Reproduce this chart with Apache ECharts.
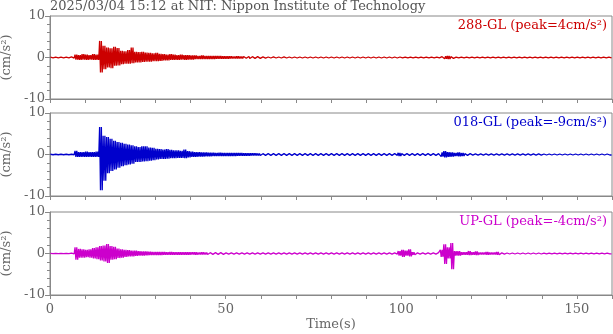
<!DOCTYPE html>
<html>
<head>
<meta charset="utf-8">
<script src="https://cdn.jsdelivr.net/npm/echarts@6/dist/echarts.min.js"></script>
<style>
  html, body { margin: 0; padding: 0; background: #fff; }
  #chart { width: 613px; height: 334px; }
</style>
</head>
<body>
<div id="chart"></div>
<script>
// envelope of each trace, one value per second (t = 0..159)
const redHi = [
  0.08, 0.08, 0.08, 0.08, 0.08, 0.08, 0.15, 0.7, 0.6, 0.8,
  0.7, 0.6, 0.8, 0.7, 4.0, 2.8, 2.4, 2.2, 2.6, 2.3,
  1.6, 1.5, 1.8, 2.4, 1.4, 1.3, 1.4, 1.2, 1.1, 1.0,
  1.1, 0.9, 0.8, 0.7, 0.8, 0.7, 0.6, 0.7, 0.6, 0.6,
  0.5, 0.5, 0.4, 0.5, 0.4, 0.4, 0.35, 0.4, 0.35, 0.3,
  0.3, 0.3, 0.25, 0.3, 0.25, 0.25, 0.25, 0.2, 0.25, 0.2,
  0.15, 0.15, 0.12, 0.15, 0.12, 0.12, 0.15, 0.12, 0.12, 0.12,
  0.12, 0.12, 0.12, 0.12, 0.12, 0.12, 0.12, 0.12, 0.12, 0.12,
  0.12, 0.12, 0.12, 0.12, 0.12, 0.12, 0.12, 0.12, 0.12, 0.12,
  0.12, 0.12, 0.12, 0.12, 0.12, 0.12, 0.12, 0.12, 0.12, 0.12,
  0.1, 0.1, 0.1, 0.1, 0.1, 0.1, 0.1, 0.1, 0.1, 0.1,
  0.1, 0.2, 0.3, 0.35, 0.2, 0.1, 0.1, 0.1, 0.1, 0.1,
  0.1, 0.1, 0.1, 0.1, 0.1, 0.1, 0.1, 0.1, 0.1, 0.1,
  0.1, 0.1, 0.1, 0.1, 0.1, 0.1, 0.1, 0.1, 0.1, 0.1,
  0.1, 0.1, 0.1, 0.1, 0.1, 0.1, 0.1, 0.1, 0.1, 0.1,
  0.1, 0.1, 0.1, 0.1, 0.1, 0.1, 0.1, 0.1, 0.1, 0.1
];
const redLo = [
  -0.08, -0.08, -0.08, -0.08, -0.08, -0.08, -0.15, -0.5, -0.6, -0.5,
  -0.6, -0.5, -0.6, -0.6, -3.6, -2.8, -2.4, -2.6, -2.0, -1.9,
  -1.6, -1.5, -1.5, -1.4, -1.2, -1.2, -1.1, -1.0, -1.0, -0.9,
  -0.9, -0.8, -0.7, -0.7, -0.6, -0.6, -0.6, -0.5, -0.6, -0.5,
  -0.5, -0.4, -0.4, -0.4, -0.4, -0.35, -0.35, -0.3, -0.3, -0.3,
  -0.3, -0.25, -0.25, -0.25, -0.25, -0.2, -0.25, -0.2, -0.2, -0.2,
  -0.15, -0.15, -0.12, -0.12, -0.12, -0.12, -0.12, -0.12, -0.12, -0.12,
  -0.12, -0.12, -0.12, -0.12, -0.12, -0.12, -0.12, -0.12, -0.12, -0.12,
  -0.12, -0.12, -0.12, -0.12, -0.12, -0.12, -0.12, -0.12, -0.12, -0.12,
  -0.12, -0.12, -0.12, -0.12, -0.12, -0.12, -0.12, -0.12, -0.12, -0.12,
  -0.1, -0.1, -0.1, -0.1, -0.1, -0.1, -0.1, -0.1, -0.1, -0.1,
  -0.1, -0.2, -0.3, -0.35, -0.2, -0.1, -0.1, -0.1, -0.1, -0.1,
  -0.1, -0.1, -0.1, -0.1, -0.1, -0.1, -0.1, -0.1, -0.1, -0.1,
  -0.1, -0.1, -0.1, -0.1, -0.1, -0.1, -0.1, -0.1, -0.1, -0.1,
  -0.1, -0.1, -0.1, -0.1, -0.1, -0.1, -0.1, -0.1, -0.1, -0.1,
  -0.1, -0.1, -0.1, -0.1, -0.1, -0.1, -0.1, -0.1, -0.1, -0.1
];
const blueHi = [
  0.06, 0.06, 0.06, 0.06, 0.06, 0.06, 0.06, 0.9, 0.6, 0.6,
  0.7, 0.6, 0.6, 0.7, 6.6, 4.5, 4.2, 3.8, 3.3, 3.0,
  2.8, 2.6, 2.4, 2.2, 2.0, 1.8, 2.0, 2.0, 1.7, 1.6,
  1.4, 1.3, 1.2, 1.3, 1.1, 1.0, 1.0, 0.9, 1.2, 0.8,
  0.7, 0.6, 0.6, 0.5, 0.5, 0.45, 0.45, 0.4, 0.45, 0.4,
  0.4, 0.35, 0.4, 0.35, 0.35, 0.3, 0.3, 0.3, 0.3, 0.25,
  0.2, 0.2, 0.2, 0.2, 0.2, 0.2, 0.2, 0.2, 0.2, 0.2,
  0.2, 0.2, 0.2, 0.2, 0.2, 0.2, 0.2, 0.2, 0.2, 0.2,
  0.2, 0.2, 0.2, 0.2, 0.2, 0.2, 0.2, 0.2, 0.2, 0.2,
  0.2, 0.2, 0.2, 0.2, 0.2, 0.2, 0.2, 0.2, 0.2, 0.4,
  0.2, 0.2, 0.2, 0.2, 0.2, 0.2, 0.2, 0.2, 0.2, 0.2,
  0.2, 0.5, 0.8, 0.6, 0.5, 0.4, 0.5, 0.35, 0.2, 0.2,
  0.15, 0.15, 0.15, 0.15, 0.15, 0.15, 0.15, 0.15, 0.15, 0.15,
  0.15, 0.15, 0.15, 0.15, 0.15, 0.15, 0.15, 0.15, 0.15, 0.15,
  0.12, 0.12, 0.12, 0.12, 0.12, 0.12, 0.12, 0.12, 0.12, 0.12,
  0.12, 0.12, 0.12, 0.12, 0.12, 0.12, 0.12, 0.12, 0.12, 0.12
];
const blueLo = [
  -0.06, -0.06, -0.06, -0.06, -0.06, -0.06, -0.06, -0.6, -0.6, -0.6,
  -0.6, -0.6, -0.6, -0.6, -8.6, -6.3, -4.5, -4.0, -3.6, -3.2,
  -2.8, -2.6, -2.4, -2.2, -1.8, -1.8, -1.7, -1.6, -1.5, -1.4,
  -1.2, -1.1, -1.1, -1.0, -0.9, -0.9, -0.8, -0.8, -0.9, -0.7,
  -0.6, -0.6, -0.5, -0.5, -0.45, -0.45, -0.4, -0.4, -0.4, -0.4,
  -0.35, -0.35, -0.35, -0.3, -0.3, -0.3, -0.3, -0.25, -0.25, -0.25,
  -0.2, -0.2, -0.2, -0.2, -0.2, -0.2, -0.2, -0.2, -0.2, -0.2,
  -0.2, -0.2, -0.2, -0.2, -0.2, -0.2, -0.2, -0.2, -0.2, -0.2,
  -0.2, -0.2, -0.2, -0.2, -0.2, -0.2, -0.2, -0.2, -0.2, -0.2,
  -0.2, -0.2, -0.2, -0.2, -0.2, -0.2, -0.2, -0.2, -0.2, -0.35,
  -0.2, -0.2, -0.2, -0.2, -0.2, -0.2, -0.2, -0.2, -0.2, -0.2,
  -0.2, -0.5, -0.7, -0.6, -0.5, -0.4, -0.45, -0.35, -0.2, -0.2,
  -0.15, -0.15, -0.15, -0.15, -0.15, -0.15, -0.15, -0.15, -0.15, -0.15,
  -0.15, -0.15, -0.15, -0.15, -0.15, -0.15, -0.15, -0.15, -0.15, -0.15,
  -0.12, -0.12, -0.12, -0.12, -0.12, -0.12, -0.12, -0.12, -0.12, -0.12,
  -0.12, -0.12, -0.12, -0.12, -0.12, -0.12, -0.12, -0.12, -0.12, -0.12
];
const upHi = [
  0.05, 0.05, 0.05, 0.05, 0.05, 0.05, 0.1, 1.5, 1.1, 1.0,
  0.9, 1.0, 1.3, 1.5, 1.8, 1.9, 2.3, 1.8, 1.6, 1.2,
  1.0, 0.9, 0.8, 0.7, 0.7, 0.6, 0.5, 0.5, 0.45, 0.4,
  0.35, 0.35, 0.35, 0.3, 0.35, 0.3, 0.3, 0.3, 0.3, 0.3,
  0.3, 0.3, 0.25, 0.3, 0.25, 0.2, 0.2, 0.2, 0.2, 0.2,
  0.15, 0.15, 0.15, 0.15, 0.15, 0.15, 0.15, 0.15, 0.15, 0.15,
  0.15, 0.15, 0.15, 0.15, 0.15, 0.15, 0.15, 0.15, 0.15, 0.15,
  0.15, 0.15, 0.15, 0.15, 0.15, 0.15, 0.15, 0.15, 0.15, 0.15,
  0.15, 0.15, 0.15, 0.15, 0.15, 0.15, 0.15, 0.15, 0.15, 0.15,
  0.15, 0.15, 0.15, 0.15, 0.15, 0.15, 0.15, 0.15, 0.15, 0.6,
  0.9, 0.7, 1.0, 0.3, 0.15, 0.15, 0.15, 0.15, 0.15, 0.15,
  0.2, 0.9, 2.2, 1.5, 2.5, 0.6, 0.6, 0.3, 0.3, 0.6,
  0.3, 0.5, 0.25, 0.25, 0.4, 0.25, 0.25, 0.35, 0.15, 0.15,
  0.12, 0.12, 0.12, 0.12, 0.12, 0.12, 0.12, 0.12, 0.12, 0.12,
  0.1, 0.1, 0.1, 0.1, 0.1, 0.1, 0.1, 0.1, 0.1, 0.1,
  0.1, 0.1, 0.1, 0.1, 0.1, 0.1, 0.1, 0.1, 0.1, 0.1
];
const upLo = [
  -0.05, -0.05, -0.05, -0.05, -0.05, -0.05, -0.1, -1.5, -1.0, -1.0,
  -0.9, -1.0, -1.2, -1.4, -1.7, -1.9, -2.3, -1.5, -1.4, -1.1,
  -1.0, -0.8, -0.7, -0.7, -0.6, -0.5, -0.5, -0.45, -0.4, -0.4,
  -0.35, -0.35, -0.3, -0.3, -0.3, -0.3, -0.3, -0.3, -0.3, -0.3,
  -0.25, -0.3, -0.25, -0.25, -0.25, -0.2, -0.2, -0.2, -0.2, -0.2,
  -0.15, -0.15, -0.15, -0.15, -0.15, -0.15, -0.15, -0.15, -0.15, -0.15,
  -0.15, -0.15, -0.15, -0.15, -0.15, -0.15, -0.15, -0.15, -0.15, -0.15,
  -0.15, -0.15, -0.15, -0.15, -0.15, -0.15, -0.15, -0.15, -0.15, -0.15,
  -0.15, -0.15, -0.15, -0.15, -0.15, -0.15, -0.15, -0.15, -0.15, -0.15,
  -0.15, -0.15, -0.15, -0.15, -0.15, -0.15, -0.15, -0.15, -0.15, -0.5,
  -0.8, -0.5, -0.7, -0.3, -0.15, -0.15, -0.15, -0.15, -0.15, -0.15,
  -0.2, -0.8, -2.5, -1.2, -3.8, -0.5, -0.5, -0.3, -0.3, -0.4,
  -0.3, -0.4, -0.25, -0.25, -0.3, -0.25, -0.25, -0.3, -0.15, -0.15,
  -0.12, -0.12, -0.12, -0.12, -0.12, -0.12, -0.12, -0.12, -0.12, -0.12,
  -0.1, -0.1, -0.1, -0.1, -0.1, -0.1, -0.1, -0.1, -0.1, -0.1,
  -0.1, -0.1, -0.1, -0.1, -0.1, -0.1, -0.1, -0.1, -0.1, -0.1
];

const traceNames = ["288-GL (peak=4cm/s²)", "018-GL (peak=-9cm/s²)", "UP-GL (peak=-4cm/s²)"];
const traceColors = ["#cc0000", "#0000cc", "#cc00cc"];
const traces = [[redHi, redLo], [blueHi, blueLo], [upHi, upLo]];
const titleText = "2025/03/04 15:12 at NIT: Nippon Institute of Technology";

const font = "DejaVu Serif";
const gray = "#666";
const axisGray = "#888";
const tops = [16, 113, 212];

// swing between the upper and lower envelope twice in each second
const zig = (hi, lo) => {
  const out = [];
  hi.forEach((v, i) => {
    out.push([i + 0.125, v], [i + 0.375, lo[i]], [i + 0.625, v], [i + 0.875, lo[i]]);
  });
  return out;
};

const chart = echarts.init(document.getElementById("chart"), null, { renderer: "canvas" });

const option = {
  animation: false,
  backgroundColor: "#fff",
  title: [
    {
      text: titleText,
      left: 50,
      top: 0,
      padding: 0,
      textStyle: { fontFamily: font, fontSize: 13, fontWeight: "normal", color: "#555" },
    },
    ...traceNames.map((name, i) => ({
      text: name,
      right: 6,
      top: tops[i] + 3,
      padding: 0,
      textStyle: { fontFamily: font, fontSize: 13, fontWeight: "normal", color: traceColors[i] },
    })),
  ],
  grid: tops.map((top) => ({
    left: 50,
    right: 1,
    top,
    height: 83,
    containLabel: false,
    outerBoundsMode: "none",
    show: true,
    borderColor: axisGray,
    borderWidth: 1,
  })),
  xAxis: tops.map((_, i) => ({
    type: "value",
    gridIndex: i,
    min: 0,
    max: 160,
    interval: 10,
    axisLine: { show: true, onZero: false, lineStyle: { color: axisGray } },
    axisTick: { show: true, length: 4, lineStyle: { color: axisGray } },
    splitLine: { show: false },
    axisLabel: {
      show: i === 2,
      color: gray,
      fontFamily: font,
      fontSize: 13,
      margin: 8,
      formatter: (v) => (v % 50 === 0 ? String(v) : ""),
    },
    name: i === 2 ? "Time(s)" : "",
    nameLocation: "middle",
    nameGap: 23,
    nameTextStyle: { color: gray, fontFamily: font, fontSize: 13 },
  })),
  yAxis: tops.map((_, i) => ({
    type: "value",
    gridIndex: i,
    min: -10,
    max: 10,
    interval: 10,
    axisLine: { show: true, lineStyle: { color: axisGray } },
    axisTick: { show: true, length: 5, lineStyle: { color: axisGray } },
    minorTick: { show: true, splitNumber: 5, length: 3, lineStyle: { color: axisGray } },
    splitLine: { show: false },
    axisLabel: { color: gray, fontFamily: font, fontSize: 13, margin: 5 },
    name: "(cm/s²)",
    nameLocation: "middle",
    nameGap: 31,
    nameTextStyle: { color: gray, fontFamily: font, fontSize: 13 },
  })),
  series: traces.map(([hi, lo], i) => ({
    type: "line",
    xAxisIndex: i,
    yAxisIndex: i,
    data: zig(hi, lo),
    showSymbol: false,
    symbol: "none",
    sampling: false,
    lineStyle: { color: traceColors[i], width: 1.3 },
  })),
};

chart.setOption(option);
</script>
</body>
</html>
